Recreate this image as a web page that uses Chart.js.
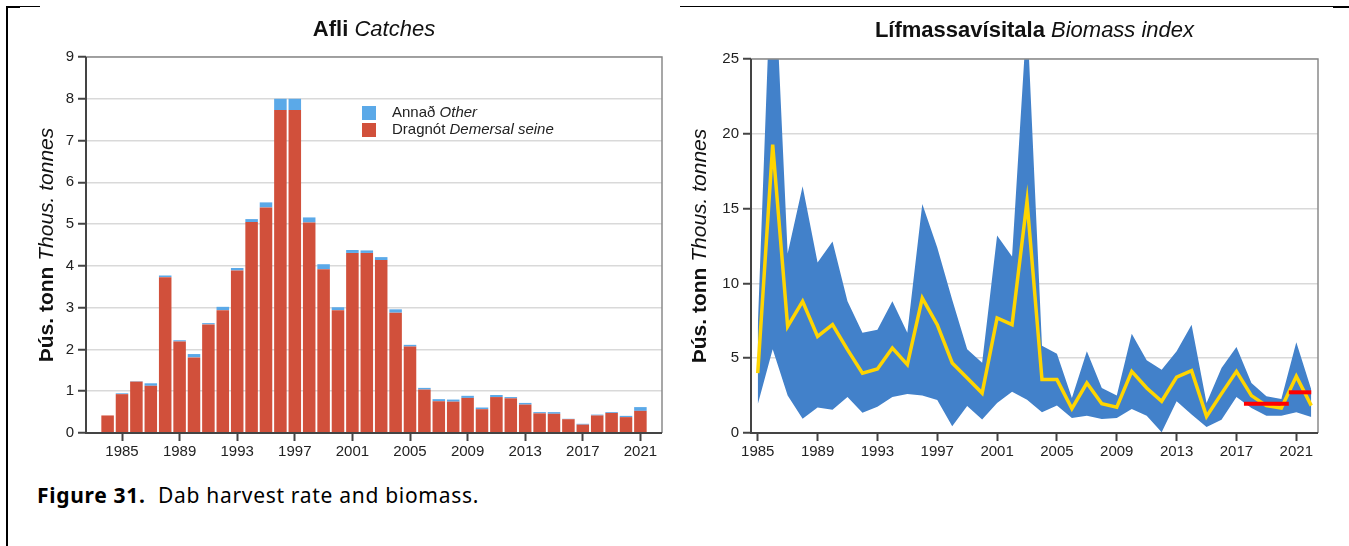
<!DOCTYPE html>
<html>
<head>
<meta charset="utf-8">
<script src="https://cdn.jsdelivr.net/npm/chart.js@4.4.0/dist/chart.umd.min.js"></script>
<style>
  body { margin: 0; background: #fff; width: 1349px; height: 546px; position: relative; overflow: hidden; }
  canvas { position: absolute; top: 0; }
  #catches { left: 0; }
  #biomass { left: 680px; }
  .caption { position: absolute; left: 37px; top: 481px; font-family: "Noto Sans", sans-serif; font-size: 21px; letter-spacing: 0.7px; color: #000; white-space: nowrap; }
  .rule { position: absolute; background: #000; }
</style>
</head>
<body>
<canvas id="catches" width="680" height="480"></canvas>
<canvas id="biomass" width="669" height="480"></canvas>
<div class="caption"><b>Figure 31.</b>&nbsp; Dab harvest rate and biomass.</div>
<div class="rule" style="left:6px;top:6px;width:2px;height:540px"></div>
<div class="rule" style="left:6px;top:6px;width:14px;height:2px"></div>
<div class="rule" style="left:20px;top:6px;width:20px;height:1px"></div>
<div class="rule" style="left:680px;top:6px;width:654px;height:1px"></div>
<div class="rule" style="left:1333px;top:6px;width:16px;height:2px"></div>
<script>
// catches (thousand tonnes)
const catchYears = [1984, 1985, 1986, 1987, 1988, 1989, 1990, 1991, 1992, 1993, 1994, 1995, 1996, 1997, 1998, 1999, 2000, 2001, 2002, 2003, 2004, 2005, 2006, 2007, 2008, 2009, 2010, 2011, 2012, 2013, 2014, 2015, 2016, 2017, 2018, 2019, 2020, 2021];
const seine = [0.42, 0.93, 1.23, 1.13, 3.73, 2.19, 1.81, 2.60, 2.94, 3.89, 5.05, 5.40, 7.73, 7.73, 5.04, 3.92, 2.94, 4.31, 4.31, 4.14, 2.88, 2.07, 1.04, 0.76, 0.75, 0.84, 0.57, 0.86, 0.83, 0.68, 0.47, 0.46, 0.33, 0.20, 0.42, 0.48, 0.38, 0.53];
const other = [0, 0.02, 0.01, 0.06, 0.04, 0.03, 0.08, 0.03, 0.08, 0.06, 0.07, 0.12, 0.27, 0.27, 0.12, 0.12, 0.07, 0.07, 0.06, 0.07, 0.08, 0.04, 0.04, 0.05, 0.05, 0.05, 0.04, 0.05, 0.03, 0.04, 0.03, 0.04, 0.01, 0.02, 0.02, 0.02, 0.03, 0.09];

// biomass index with confidence band
const surveyYears = [1985, 1986, 1987, 1988, 1989, 1990, 1991, 1992, 1993, 1994, 1995, 1996, 1997, 1998, 1999, 2000, 2001, 2002, 2003, 2004, 2005, 2006, 2007, 2008, 2009, 2010, 2011, 2012, 2013, 2014, 2015, 2016, 2017, 2018, 2019, 2020, 2021, 2022];
const biomass = [4.0, 19.27, 7.13, 8.80, 6.46, 7.24, 5.57, 4.0, 4.28, 5.68, 4.57, 9.02, 7.24, 4.68, 3.68, 2.67, 7.69, 7.24, 15.49, 3.57, 3.57, 1.63, 3.34, 1.96, 1.72, 4.12, 3.01, 2.12, 3.74, 4.17, 1.11, 2.63, 4.12, 2.50, 1.83, 1.67, 3.79, 1.83];
const upper = [7.0, 34, 12.0, 16.5, 11.4, 12.8, 8.8, 6.7, 6.9, 8.8, 6.7, 15.3, 12.4, 8.9, 5.6, 4.7, 13.2, 11.8, 28, 5.84, 5.30, 2.34, 5.46, 3.01, 2.5, 6.64, 4.86, 4.23, 5.46, 7.24, 2.0, 4.34, 5.75, 3.34, 2.45, 2.27, 6.06, 2.9];
const lower = [1.9, 5.6, 2.5, 0.95, 1.7, 1.55, 2.4, 1.35, 1.75, 2.4, 2.6, 2.5, 2.2, 0.45, 1.8, 0.9, 2.0, 2.75, 2.23, 1.38, 1.83, 1.0, 1.16, 0.94, 1.0, 1.6, 1.16, 0.05, 2.12, 1.23, 0.4, 0.89, 2.41, 1.67, 1.16, 1.16, 1.38, 1.07];

// red reference segments
const refFrom = [2017.5, 2020.5];
const refTo = [2020.5, 2022];
const refValue = [1.96, 2.72];

const tickYears = [1985, 1989, 1993, 1997, 2001, 2005, 2009, 2013, 2017, 2021];

const FONT = '"Liberation Sans", Arial, sans-serif';
const RED = '#D1503B';
const BLUE = '#5BA9E8';
const BAND = '#4281CA';
const YELLOW = '#FFD500';

function textRuns(ctx, runs, x, y) {
  let w = 0;
  runs.forEach(r => { ctx.font = r[1]; w += ctx.measureText(r[0]).width; });
  let cx = x - w / 2;
  runs.forEach(r => {
    ctx.font = r[1];
    ctx.fillText(r[0], cx, y);
    cx += ctx.measureText(r[0]).width;
  });
}

const decor = {
  id: 'decor',
  afterDraw(chart, args, opts) {
    const { ctx, chartArea: a } = chart;
    ctx.save();
    // frame
    ctx.strokeStyle = '#8a8a8a';
    ctx.lineWidth = 1.5;
    ctx.beginPath();
    ctx.moveTo(a.left, a.top); ctx.lineTo(a.right, a.top); ctx.lineTo(a.right, a.bottom);
    ctx.stroke();
    ctx.strokeStyle = '#444';
    ctx.lineWidth = 2;
    ctx.beginPath();
    ctx.moveTo(a.left, a.top); ctx.lineTo(a.left, a.bottom); ctx.lineTo(a.right, a.bottom);
    ctx.stroke();

    ctx.fillStyle = '#111';
    ctx.textAlign = 'left';
    ctx.textBaseline = 'middle';
    textRuns(ctx, opts.title, (a.left + a.right) / 2, opts.titleY);

    ctx.translate(opts.yTitleX, (a.top + a.bottom) / 2);
    ctx.rotate(-Math.PI / 2);
    textRuns(ctx, opts.yTitle, 0, 0);
    ctx.restore();

    if (opts.legend) {
      ctx.save();
      ctx.textAlign = 'left';
      ctx.textBaseline = 'middle';
      opts.legend.forEach((item, i) => {
        const y = opts.legendY + i * 17;
        ctx.fillStyle = item.color;
        ctx.fillRect(opts.legendX, y - 7, 14, 14);
        ctx.fillStyle = '#222';
        let x = opts.legendX + 30;
        item.runs.forEach(r => {
          ctx.font = r[1];
          ctx.fillText(r[0], x, y);
          x += ctx.measureText(r[0]).width;
        });
      });
      ctx.restore();
    }
  }
};

const tickFont = { family: FONT, size: 15 };

function xScale(min, max) {
  return {
    type: 'linear', min, max, stacked: true, offset: false,
    afterBuildTicks: s => { s.ticks = tickYears.map(v => ({ value: v })); },
    ticks: { font: tickFont, color: '#222', maxRotation: 0, autoSkip: false, padding: 2, callback: v => String(v) },
    grid: { offset: false, drawOnChartArea: false, tickLength: 8, tickColor: '#444', tickWidth: 2 },
    border: { display: false },
    afterFit: s => { s.height = 30; }
  };
}

function yScale(max, step) {
  return {
    min: 0, max, stacked: true,
    ticks: { stepSize: step, font: tickFont, color: '#222', padding: 4 },
    grid: { color: '#d9d9d9', lineWidth: 1.5, tickLength: 8, tickColor: '#444', tickWidth: 2 },
    border: { display: false },
    afterFit: s => { s.width = 50; }
  };
}

const yTitleRuns = [['Þús. tonn ', 'bold 21px ' + FONT], ['Thous. tonnes', 'italic 21px ' + FONT]];

new Chart(document.getElementById('catches'), {
  type: 'bar',
  data: {
    datasets: [
      { label: 'Dragnót Demersal seine', data: catchYears.map((y, i) => ({ x: y, y: seine[i] })), backgroundColor: RED },
      { label: 'Annað Other', data: catchYears.map((y, i) => ({ x: y, y: other[i] })), backgroundColor: BLUE }
    ]
  },
  options: {
    responsive: false,
    animation: false,
    barPercentage: 0.87,
    categoryPercentage: 1,
    layout: { padding: { left: 36, right: 18, top: 57, bottom: 17 } },
    scales: { x: xScale(1982.5, 2022.5), y: yScale(9, 1) },
    plugins: {
      legend: { display: false },
      tooltip: { enabled: false },
      decor: {
        title: [['Afli ', 'bold 22px ' + FONT], ['Catches', 'italic 22px ' + FONT]],
        titleY: 30,
        yTitle: yTitleRuns,
        yTitleX: 47,
        legendX: 362,
        legendY: 113,
        legend: [
          { color: BLUE, runs: [['Annað ', '15px ' + FONT], ['Other', 'italic 15px ' + FONT]] },
          { color: RED, runs: [['Dragnót ', '15px ' + FONT], ['Demersal seine', 'italic 15px ' + FONT]] }
        ]
      }
    }
  },
  plugins: [decor]
});

const pts = arr => surveyYears.map((y, i) => ({ x: y, y: arr[i] }));
const flat = { pointRadius: 0, tension: 0 };

new Chart(document.getElementById('biomass'), {
  type: 'line',
  data: {
    datasets: [
      Object.assign({ data: pts(upper), borderWidth: 0, borderColor: BAND, backgroundColor: BAND, fill: '+1', order: 3 }, flat),
      Object.assign({ data: pts(lower), borderWidth: 0, borderColor: BAND, fill: false, order: 3 }, flat),
      Object.assign({ data: pts(biomass), borderWidth: 3.5, borderColor: YELLOW, fill: false, order: 2 }, flat),
      ...refValue.map((v, i) => Object.assign({
        data: [{ x: refFrom[i], y: v }, { x: refTo[i], y: v }],
        borderWidth: 4, borderColor: '#FF0000', fill: false, order: 1
      }, flat))
    ]
  },
  options: {
    responsive: false,
    animation: false,
    layout: { padding: { left: 21, right: 31, top: 59, bottom: 17 } },
    scales: { x: xScale(1984.55, 2022.45), y: Object.assign(yScale(25, 5), { stacked: false }) },
    plugins: {
      legend: { display: false },
      tooltip: { enabled: false },
      decor: {
        title: [['Lífmassavísitala ', 'bold 22px ' + FONT], ['Biomass index', 'italic 22px ' + FONT]],
        titleY: 31,
        yTitle: yTitleRuns,
        yTitleX: 20
      }
    }
  },
  plugins: [decor]
});
</script>
</body>
</html>
